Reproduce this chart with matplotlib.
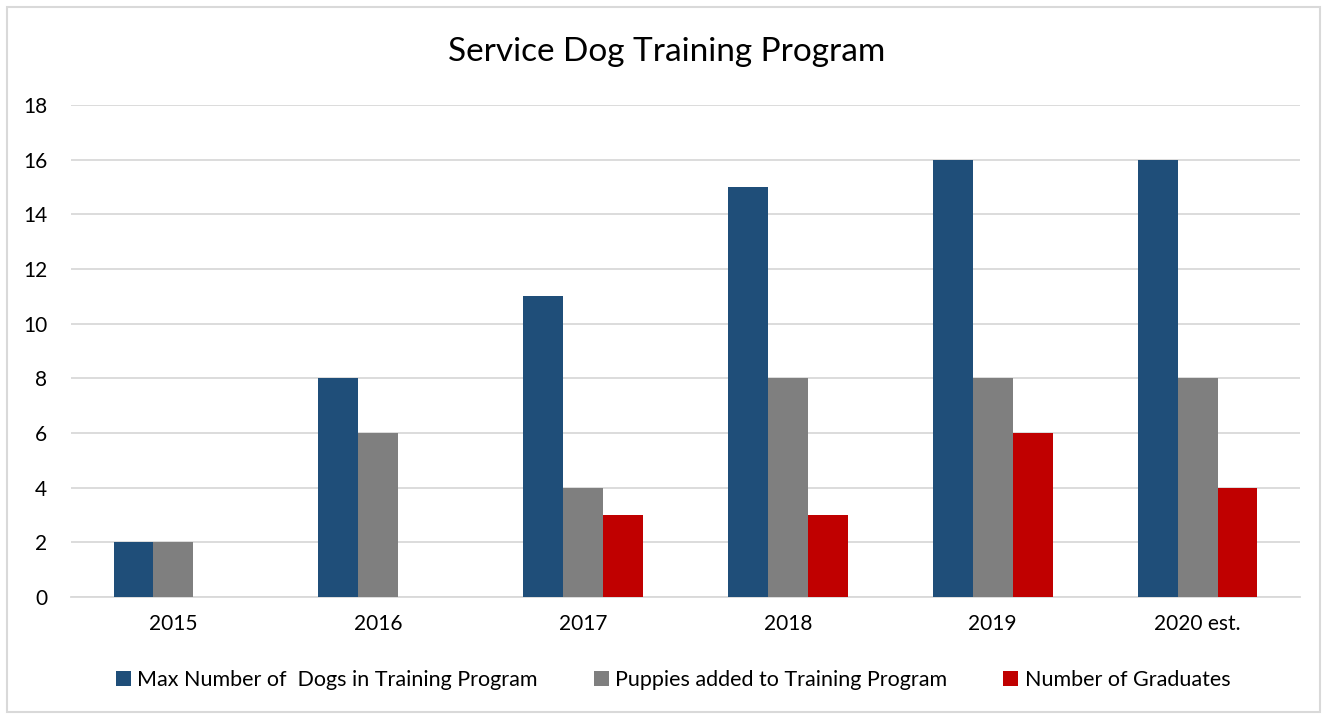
import matplotlib.pyplot as plt
from matplotlib.patches import Rectangle
import numpy as np

plt.rcParams['font.family'] = ['Lato', 'DejaVu Sans']

years = ['2015', '2016', '2017', '2018', '2019', '2020 est.']
max_dogs = [2, 8, 11, 15, 16, 16]
puppies = [2, 6, 4, 8, 8, 8]
graduates = [0, 0, 3, 3, 6, 4]

series = [
    ('Max Number of  Dogs in Training Program', max_dogs, '#1F4E79'),
    ('Puppies added to Training Program', puppies, '#7F7F7F'),
    ('Number of Graduates', graduates, '#C00000'),
]

fig = plt.figure(figsize=(13.28, 7.15), dpi=100)
ax = fig.add_axes([71 / 1328, 1 - 597 / 715, (1300 - 71) / 1328, (597 - 105) / 715])

# light chart-area border
fig.patches.append(Rectangle((7 / 1328, 3 / 715), 1313 / 1328, 705 / 715,
                             transform=fig.transFigure, fill=False,
                             edgecolor='#D9D9D9', linewidth=1.5))

x = np.arange(len(years))
w = 0.195
for i, (label, vals, color) in enumerate(series):
    ax.bar(x + (i - 1) * w, vals, w, color=color, label=label, zorder=3)

ax.set_xlim(-0.5, len(years) - 0.5)
ax.set_ylim(0, 18)
ax.set_yticks(range(0, 19, 2))
ax.set_xticks(x)
ax.set_xticklabels(years)
ax.yaxis.grid(True, color='#D9D9D9', linewidth=1.3, zorder=0)
ax.tick_params(axis='both', length=0, labelsize=15, colors='#000000')
ax.tick_params(axis='x', pad=12)
ax.tick_params(axis='y', pad=17)
for s in ['top', 'right', 'left']:
    ax.spines[s].set_visible(False)
ax.spines['bottom'].set_color('#D9D9D9')
ax.spines['bottom'].set_linewidth(1.3)

fig.text(667 / 1328, 1 - 52 / 715, 'Service Dog Training Program',
         ha='center', va='center', fontsize=24)

fig.legend(loc='center', bbox_to_anchor=(673 / 1328, 1 - 680 / 715), ncol=3,
           frameon=False, fontsize=15.5, handlelength=0.7, handleheight=0.7,
           handletextpad=0.3, columnspacing=2.6)

fig.savefig('out.png', dpi=100)
